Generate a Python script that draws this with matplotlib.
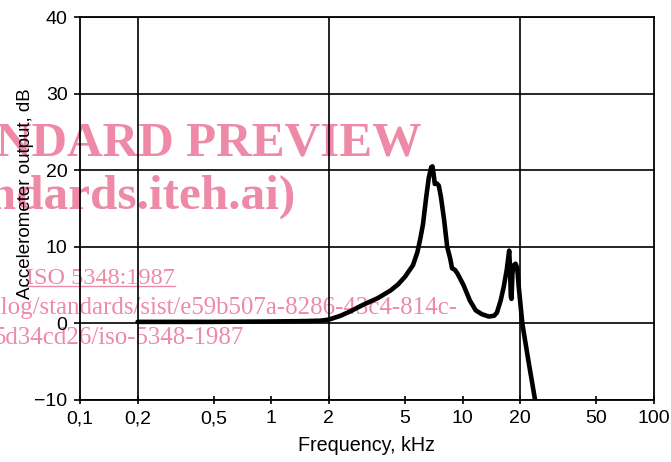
import matplotlib
matplotlib.use('Agg')
import matplotlib.pyplot as plt
from matplotlib.lines import Line2D

# frequency response of the accelerometer (kHz, dB)
freq_khz = [0.2, 0.5, 1.0, 1.5, 1.8, 2.0, 2.3, 2.6, 3.0, 3.6, 4.2, 4.6, 5.0, 5.5,
            5.8, 6.0, 6.2, 6.45, 6.65, 6.85, 6.95, 7.05, 7.15, 7.3, 7.5, 7.7, 8.0,
            8.3, 8.6, 8.8, 9.1, 9.4, 10.1, 10.9, 11.7, 12.6, 13.7, 14.6, 15.1,
            15.8, 16.4, 17.0, 17.5, 17.7, 17.85, 18.0, 18.2, 18.5, 18.9, 19.3,
            19.6, 20.5, 22.0, 23.9]
output_db = [0.2, 0.2, 0.25, 0.3, 0.35, 0.5, 1.0, 1.6, 2.4, 3.3, 4.3, 5.1, 6.1, 7.6,
             9.3, 11.0, 12.9, 16.5, 19.0, 20.4, 20.5, 19.5, 18.2, 18.3, 18.0, 16.5, 13.5,
             10.0, 8.5, 7.2, 7.0, 6.5, 5.0, 3.0, 1.7, 1.2, 0.9, 1.0, 1.4,
             3.0, 4.8, 7.0, 9.5, 7.0, 3.5, 3.2, 6.5, 7.6, 7.8, 7.2,
             5.0, 0.0, -4.7, -10.0]

x_ticks = [0.1, 0.2, 0.5, 1, 2, 5, 10, 20, 50, 100]
x_tick_labels = ['0,1', '0,2', '0,5', '1', '2', '5', '10', '20', '50', '100']
x_grid = [0.2, 2, 20]
y_ticks = [-10, 0, 10, 20, 30, 40]

W, H = 671, 462
pink = '#EE8AA8'
sans = ['Liberation Sans', 'DejaVu Sans']
serif = ['Liberation Serif', 'DejaVu Serif']

fig = plt.figure(figsize=(W / 100, H / 100), dpi=100)
fig.patch.set_facecolor('white')

# watermark, drawn beneath the chart
fig.text(421 / W, 1 - 155 / H, 'iTeh STANDARD PREVIEW', ha='right', va='baseline',
         fontsize=35.5, fontweight='bold', family=serif, color=pink, zorder=-2)
fig.text(296 / W, 1 - 209 / H, '(standards.iteh.ai)', ha='right', va='baseline',
         fontsize=35.5, fontweight='bold', family=serif, color=pink, zorder=-2)
iso = fig.text(175 / W, 1 - 284 / H, 'ISO 5348:1987', ha='right', va='baseline',
               fontsize=17.5, family=serif, color=pink, zorder=-2)
fig.text(458 / W, 1 - 314 / H,
         'https://standards.iteh.ai/catalog/standards/sist/e59b507a-8286-43c4-814c-',
         ha='right', va='baseline', fontsize=17.9, family=serif, color=pink, zorder=-2)
fig.text(244 / W, 1 - 344 / H, '5d34cd26/iso-5348-1987', ha='right', va='baseline',
         fontsize=17.9, family=serif, color=pink, zorder=-2)

ax = fig.add_axes([80 / W, 1 - 400 / H, (654 - 80) / W, (400 - 17) / H])
ax.set_facecolor('none')
ax.set_zorder(0)

ax.plot(freq_khz, output_db, color='black', lw=3.3,
        solid_capstyle='round', solid_joinstyle='round', zorder=3)

ax.set_xscale('log')
ax.set_xlim(0.1, 100)
ax.set_ylim(-10, 40)
ax.set_xticks(x_ticks)
ax.set_xticklabels(x_tick_labels)
ax.xaxis.set_minor_locator(plt.NullLocator())
ax.set_yticks(y_ticks)

for g in x_grid:
    ax.axvline(g, color='black', lw=1.2, zorder=1)
ax.yaxis.grid(True, color='black', lw=1.2)
ax.set_axisbelow(True)

for s in ax.spines.values():
    s.set_linewidth(1.3)

ax.tick_params(axis='x', direction='inout', length=6, width=1.2, pad=4.5)
ax.tick_params(axis='y', direction='out', length=4, width=1.2, pad=5)
for lab in ax.get_xticklabels() + ax.get_yticklabels():
    lab.set_family(sans)
    lab.set_fontsize(14)

ax.set_xlabel('Frequency, kHz', fontsize=14.2, family=sans, labelpad=6)
ax.set_ylabel('Accelerometer output, dB', fontsize=13.5, family=sans)
ax.yaxis.set_label_coords(-0.08, 0.538)

# underline the ISO reference like a link
fig.canvas.draw()
bb = iso.get_window_extent()
fig.add_artist(Line2D([bb.x0 / W, bb.x1 / W], [(bb.y0 + 3) / H, (bb.y0 + 3) / H],
                      transform=fig.transFigure, color=pink, lw=1.0, zorder=-2))

fig.savefig('out.png', dpi=100)
